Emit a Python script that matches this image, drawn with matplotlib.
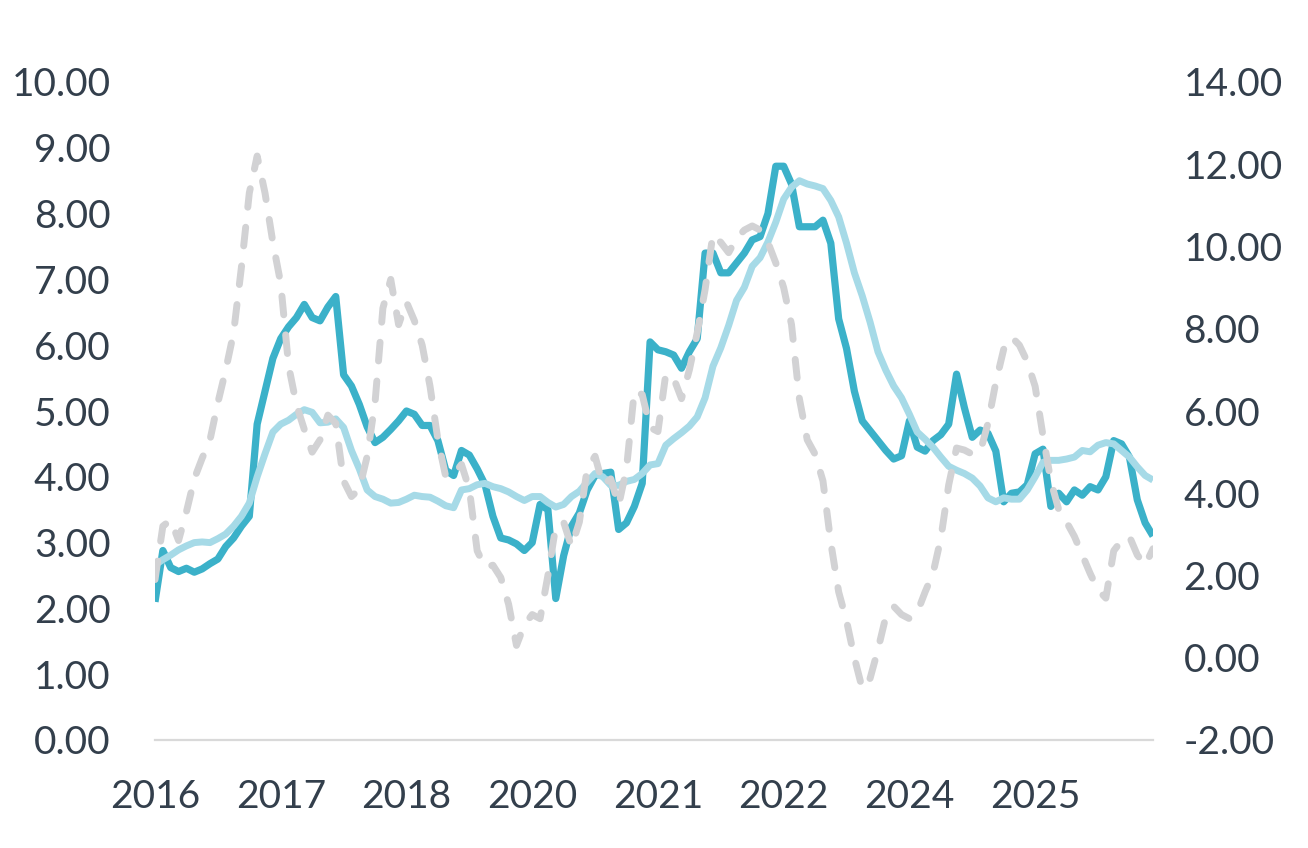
import matplotlib
matplotlib.use("Agg")
import matplotlib.pyplot as plt
import numpy as np

plt.rcParams['font.family'] = ['Lato', 'DejaVu Sans']

# ---- data (128 periods) ----
series_main = [
    2.10, 2.88, 2.62, 2.56, 2.61, 2.55, 2.60, 2.68, 2.75, 2.94,
    3.07, 3.25, 3.40, 4.80, 5.30, 5.80, 6.10, 6.28, 6.42, 6.62,
    6.42, 6.37, 6.58, 6.74, 5.55, 5.38, 5.10, 4.76, 4.52, 4.60,
    4.72, 4.85, 5.00, 4.95, 4.78, 4.78, 4.55, 4.10, 4.02, 4.40,
    4.33, 4.12, 3.88, 3.40, 3.07, 3.04, 2.98, 2.88, 3.00, 3.58,
    3.50, 2.15, 2.80, 3.25, 3.45, 3.80, 4.02, 4.05, 4.07, 3.20,
    3.30, 3.55, 3.90, 6.05, 5.93, 5.90, 5.85, 5.65, 5.90, 6.10,
    7.40, 7.40, 7.10, 7.10, 7.25, 7.40, 7.60, 7.65, 8.00, 8.72,
    8.72, 8.45, 7.80, 7.80, 7.80, 7.90, 7.55, 6.40, 5.95, 5.30,
    4.85, 4.70, 4.55, 4.40, 4.27, 4.32, 4.85, 4.45, 4.39, 4.55,
    4.64, 4.80, 5.56, 5.05, 4.60, 4.71, 4.66, 4.39, 3.62, 3.75,
    3.77, 3.88, 4.35, 4.42, 3.55, 3.75, 3.62, 3.80, 3.72, 3.85,
    3.80, 4.00, 4.55, 4.50, 4.30, 3.65, 3.30, 3.10,
]

series_smooth = [
    2.66, 2.74, 2.81, 2.89, 2.95, 3.00, 3.01, 3.00, 3.06, 3.13,
    3.25, 3.40, 3.60, 4.00, 4.35, 4.68, 4.80, 4.86, 4.95, 5.02,
    4.98, 4.82, 4.83, 4.88, 4.75, 4.40, 4.12, 3.80, 3.70, 3.66,
    3.60, 3.61, 3.66, 3.72, 3.70, 3.69, 3.63, 3.56, 3.53, 3.80,
    3.82, 3.88, 3.90, 3.85, 3.82, 3.77, 3.70, 3.64, 3.70, 3.70,
    3.61, 3.54, 3.58, 3.70, 3.78, 3.92, 4.05, 4.00, 3.87, 3.87,
    3.93, 3.96, 4.05, 4.18, 4.20, 4.48, 4.58, 4.67, 4.77, 4.91,
    5.20, 5.68, 5.96, 6.30, 6.68, 6.88, 7.20, 7.33, 7.57, 7.87,
    8.22, 8.40, 8.50, 8.45, 8.42, 8.38, 8.20, 7.95, 7.55, 7.10,
    6.75, 6.35, 5.90, 5.62, 5.38, 5.20, 4.95, 4.68, 4.57, 4.45,
    4.30, 4.16, 4.10, 4.05, 3.98, 3.86, 3.68, 3.62, 3.68, 3.66,
    3.66, 3.80, 4.00, 4.22, 4.25, 4.25, 4.27, 4.30, 4.40, 4.38,
    4.48, 4.52, 4.50, 4.40, 4.30, 4.15, 4.02, 3.95,
]

series_right = [
    1.90, 3.20, 3.35, 2.85, 3.55, 4.35, 4.85, 5.30, 6.20, 7.00,
    7.90, 9.50, 11.30, 12.20, 11.30, 10.10, 9.10, 7.10, 6.15, 5.55,
    5.00, 5.30, 5.90, 5.70, 4.30, 3.92, 4.10, 4.90, 6.20, 8.50,
    9.20, 8.10, 8.65, 8.20, 7.60, 6.60, 5.30, 4.40, 4.45, 4.70,
    4.10, 2.60, 2.20, 2.25, 1.95, 1.30, 0.30, 0.80, 1.05, 0.95,
    2.00, 3.20, 3.30, 2.70, 3.30, 4.60, 4.90, 4.20, 4.35, 3.70,
    4.60, 6.50, 6.40, 5.60, 5.50, 6.90, 6.80, 6.30, 7.00, 7.90,
    8.95, 10.30, 10.10, 9.85, 10.20, 10.40, 10.50, 10.40, 10.10, 9.60,
    9.00, 8.10, 6.30, 5.30, 4.95, 4.30, 2.80, 1.60, 0.90, 0.00,
    -0.75, -0.50, 0.20, 1.00, 1.25, 1.05, 0.95, 1.10, 1.60, 2.05,
    2.90, 4.20, 5.10, 5.05, 4.95, 5.00, 5.70, 6.70, 7.50, 7.80,
    7.60, 7.20, 6.60, 5.40, 4.30, 3.60, 3.30, 2.95, 2.50, 2.05,
    1.65, 1.45, 2.60, 2.85, 2.95, 2.50, 2.25, 2.65,
]

tick_labels = ['2016', '2017', '2018', '2020', '2021', '2022', '2024', '2025']
tick_positions = [0, 16, 32, 48, 64, 80, 96, 112]

left_ticks = np.arange(0, 11, 1)
right_ticks = np.arange(-2, 15, 2)

# ---- figure ----
W, H, DPI = 1308, 848, 100
fig = plt.figure(figsize=(W / DPI, H / DPI), dpi=DPI)
ax = fig.add_axes([155 / W, 1 - 740 / H, (1153 - 155) / W, (740 - 82) / H])
ax2 = ax.twinx()

x = np.arange(len(series_main))
text_color = '#333F4C'

ax.plot(x, series_main, color='#3BB1C9', lw=5.2, solid_joinstyle='round',
        solid_capstyle='butt', zorder=2)
ax.plot(x, series_smooth, color='#A6DAE7', lw=5.0, solid_joinstyle='round',
        solid_capstyle='butt', zorder=3)
ax2.plot(x, series_right, color='#D2D2D4', lw=5.0, dashes=(2.7, 2.9),
         dash_capstyle='round', dash_joinstyle='round', zorder=4)

ax.set_xlim(0, len(series_main) - 1)
ax.set_ylim(0, 10)
ax2.set_ylim(-2, 14)

ax.set_yticks(left_ticks)
ax.set_yticklabels([f'{v:.2f}' for v in left_ticks])
ax2.set_yticks(right_ticks)
ax2.set_yticklabels([f'{v:.2f}' for v in right_ticks])
ax.set_xticks(tick_positions)
ax.set_xticklabels(tick_labels)

for a in (ax, ax2):
    for s in ('top', 'left', 'right', 'bottom'):
        a.spines[s].set_visible(False)
    a.patch.set_visible(False)

ax.spines['bottom'].set_visible(True)
ax.spines['bottom'].set_color('#D9D9D9')
ax.spines['bottom'].set_linewidth(1.6)

ax.tick_params(axis='y', length=0, pad=32, labelsize=28, labelcolor=text_color)
ax2.tick_params(axis='y', length=0, pad=22, labelsize=28, labelcolor=text_color)
ax.tick_params(axis='x', length=0, pad=28, labelsize=28, labelcolor=text_color)

fig.savefig('out.png', dpi=DPI)
